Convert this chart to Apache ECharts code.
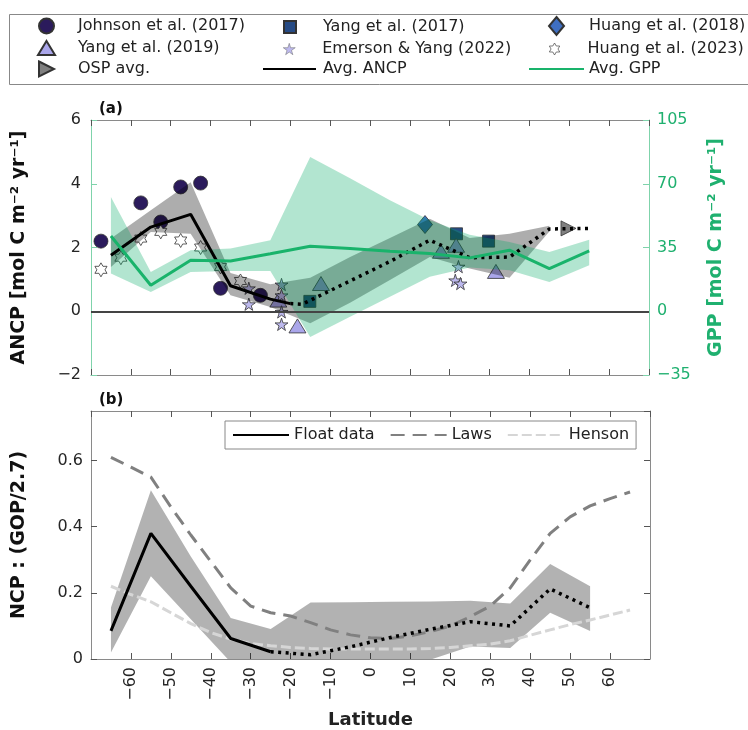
<!DOCTYPE html>
<html>
<head>
<meta charset="utf-8">
<title>ANCP / GPP vs latitude</title>
<script src="https://cdn.jsdelivr.net/npm/echarts@6/dist/echarts.min.js"></script>
<style>
  html, body { margin: 0; padding: 0; background: #fff; }
  #main { width: 748px; height: 730px; }
</style>
</head>
<body>
<div id="main"></div>
<script>
// ---------------- panel (a): observations [latitude, ANCP] ----------------
var johnson2017 = [[-67.5, 2.2], [-57.5, 3.4], [-52.5, 2.8], [-47.5, 3.9], [-42.5, 4.02], [-37.5, 0.72], [-27.5, 0.5]];
var yang2017 = [[-15.1, 0.31], [21.7, 2.43], [29.75, 2.2]];
var huang2018 = [[13.8, 2.72]];
var yang2019 = [[-23.0, 0.35], [-18.2, -0.46], [-12.3, 0.87], [17.8, 1.88], [21.6, 2.07], [31.6, 1.25]];
var emerson2022 = [[-30.4, 0.72], [-30.4, 0.22], [-22.2, 0.84], [-22.2, 0.5], [-22.2, -0.02], [-22.2, -0.41], [22.2, 1.4], [21.4, 0.97], [22.7, 0.87]];
var huang2023 = [[-67.5, 1.3], [-62.5, 1.68], [-57.5, 2.28], [-52.5, 2.49], [-47.5, 2.22], [-42.5, 2.0], [-37.5, 1.39], [-32.5, 0.95]];
var ospAvg = [[49.8, 2.6]];

// average ANCP (solid where floats are dense, dotted elsewhere)
var ancpSolid = [[-65, 1.76], [-55, 2.64], [-45, 3.04], [-35, 0.8], [-25, 0.38], [-20, 0.24]];
var ancpDotted = [[-20, 0.24], [-17, 0.22], [-5, 0.95], [5, 1.56], [15, 2.23], [25, 1.68], [35, 1.7], [45, 2.58], [55, 2.6]];
var ancpBandLat = [-65, -55, -45, -35, -25, -15, -5, 5, 15, 25, 35, 45];
var ancpBandHi = [2.28, 3.17, 4.05, 1.2, 0.85, 1.05, 1.7, 2.3, 2.9, 2.3, 2.43, 2.68];
var ancpBandLo = [1.39, 2.49, 2.43, 0.5, 0.13, -0.38, 0.27, 0.98, 1.7, 1.34, 1.05, 2.5];

// average GPP (right axis)
var gppLat = [-65, -55, -45, -35, -25, -15, -5, 5, 15, 25, 35, 45, 55];
var gppMean = [41.3, 14.3, 28, 27.6, 31.6, 35.7, 34.5, 33, 31.7, 29.3, 33.5, 23.4, 33.1];
var gppHi = [62.7, 21.6, 33.5, 34.4, 39, 84.7, 73, 61, 50, 42, 38, 32.5, 39.3];
var gppLo = [20.7, 10.6, 21.6, 22.1, 22.1, -14.1, -3, 8, 19, 24, 22.5, 16.1, 25.2];

// ---------------- panel (b): NCP : (GOP/2.7) ----------------
var floatSolid = [[-65, 0.085], [-55, 0.38], [-45, 0.22], [-35, 0.062], [-25, 0.022]];
var floatDotted = [[-25, 0.022], [-15, 0.013], [-5, 0.037], [5, 0.065], [15, 0.09], [25, 0.113], [35, 0.1], [45, 0.212], [55, 0.155]];
var floatBandLat = [-65, -55, -45, -35, -25, -15, -5, 5, 15, 25, 35, 45, 55];
var floatBandHi = [0.156, 0.51, 0.31, 0.124, 0.091, 0.171, 0.172, 0.173, 0.174, 0.176, 0.168, 0.287, 0.22];
var floatBandLo = [0.02, 0.25, 0.12, -0.01, -0.03, -0.06, -0.06, -0.04, -0.002, 0.038, 0.033, 0.14, 0.085];
var lawsModel = [[-65, 0.61], [-60, 0.58], [-55, 0.55], [-50, 0.46], [-45, 0.375], [-40, 0.295], [-35, 0.215], [-30, 0.16], [-25, 0.14], [-20, 0.13], [-15, 0.11], [-10, 0.088], [-5, 0.073], [0, 0.064], [5, 0.062], [10, 0.07], [15, 0.083], [20, 0.1], [25, 0.128], [30, 0.16], [35, 0.215], [40, 0.3], [45, 0.38], [50, 0.43], [55, 0.463], [60, 0.485], [65, 0.505]];
var hensonModel = [[-65, 0.22], [-60, 0.195], [-55, 0.173], [-50, 0.14], [-45, 0.107], [-40, 0.08], [-35, 0.06], [-30, 0.047], [-25, 0.04], [-20, 0.035], [-15, 0.032], [-10, 0.03], [-5, 0.03], [0, 0.03], [5, 0.03], [10, 0.03], [15, 0.032], [20, 0.035], [25, 0.04], [30, 0.045], [35, 0.055], [40, 0.072], [45, 0.088], [50, 0.104], [55, 0.118], [60, 0.133], [65, 0.148]];

var FONT = 'DejaVu Sans';
var GREEN = '#1fb06f';
var GREEN_LINE = '#7fd3ab';
var SPINE = '#8a8a8a';

var STAR5 = 'path://M50,0L61,35L98,35L68,57L79,91L50,70L21,91L32,57L2,35L39,35Z';
var STAR6 = 'path://M50,0L64.4,25L93.3,25L78.9,50L93.3,75L64.4,75L50,100L35.6,75L6.7,75L21.1,50L6.7,25L35.6,25Z';
var TRI_RIGHT = 'path://M0,0L100,50L0,100Z';

function minus(v) { return String(v).replace('-', '\u2212'); }

function points(name, data, symbol, size, color) {
        return {
                name: name, type: 'scatter', xAxisIndex: 0, yAxisIndex: 0,
                data: data, symbol: symbol, symbolSize: size, symbolKeepAspect: true,
                itemStyle: { color: color, borderColor: '#333', borderWidth: 0.8, opacity: 1 },
                z: 2, silent: true
        };
}

// shaded range drawn as one polygon through the axis scales
function band(xi, yi, lats, hi, lo, fill, z) {
        return {
                type: 'custom', xAxisIndex: xi, yAxisIndex: yi, clip: true, z: z, silent: true,
                data: [[lats[0], hi[0]]],
                renderItem: function (params, api) {
                        var pts = [];
                        for (var i = 0; i < lats.length; i++) pts.push(api.coord([lats[i], hi[i]]));
                        for (var j = lats.length - 1; j >= 0; j--) pts.push(api.coord([lats[j], lo[j]]));
                        return { type: 'polygon', shape: { points: pts }, style: { fill: fill } };
                }
        };
}

function line(name, xi, yi, data, color, width, type, z) {
        return {
                name: name, type: 'line', xAxisIndex: xi, yAxisIndex: yi, data: data,
                symbol: 'none', lineStyle: { color: color, width: width, type: type, cap: 'butt' },
                itemStyle: { color: color }, z: z, silent: true
        };
}

function xAxisDef(grid, pos, labels) {
        return {
                type: 'value', gridIndex: grid, position: pos, min: -70, max: 70, interval: 10,
                axisLine: { show: true, onZero: false, lineStyle: { color: SPINE, width: 1 } },
                axisTick: { show: true, inside: true, length: 6, lineStyle: { color: '#555' } },
                axisLabel: { show: labels, rotate: 90, fontFamily: FONT, fontSize: 16, color: '#262626',
                        showMinLabel: false, showMaxLabel: false, margin: 8, formatter: minus },
                splitLine: { show: false }
        };
}

// one legend entry per box, so every marker keeps its own size and place
function legendItem(name, left, cy, w, h, textX, iconStyle) {
        var lg = {
                orient: 'horizontal', left: left, top: cy - h / 2, padding: 0,
                itemWidth: w, itemHeight: h, selectedMode: false, data: [name],
                textStyle: { fontFamily: FONT, fontSize: 16, color: '#222', padding: [0, 0, 0, textX - left - w - 5] }
        };
        if (iconStyle) lg.itemStyle = iconStyle;
        return lg;
}
var LINE_ONLY = { opacity: 0 };
var THIN = { borderWidth: 0.5, borderColor: '#666' };
var THIN_DARK = { borderWidth: 0.7, borderColor: '#444' };

var option = {
        animation: false,
        backgroundColor: '#fff',
        textStyle: { fontFamily: FONT },
        title: [
                { text: '(a)', left: 99, top: 102, padding: 0, textStyle: { fontFamily: FONT, fontSize: 15, fontWeight: 'bold', color: '#111' } },
                { text: '(b)', left: 99, top: 393, padding: 0, textStyle: { fontFamily: FONT, fontSize: 15, fontWeight: 'bold', color: '#111' } }
        ],
        graphic: [
                { type: 'rect', left: 7, top: 12, shape: { width: 760, height: 70 }, style: { fill: 'none', stroke: '#888', lineWidth: 1 }, silent: true }
        ],
        legend: [
                legendItem('Johnson et al. (2017)', 38, 25, 15, 15, 77),
                legendItem('Yang et al. (2019)', 37, 47, 17, 14, 77),
                legendItem('OSP avg.', 38, 68, 15, 15, 77),
                legendItem('Yang et al. (2017)', 283, 25, 12, 12, 322),
                legendItem('Emerson & Yang (2022)', 283, 47, 12, 12, 322, THIN),
                legendItem('Avg. ANCP', 262, 68, 53, 14, 322, LINE_ONLY),
                legendItem('Huang et al. (2018)', 548, 25, 15, 18, 588),
                legendItem('Huang et al. (2023)', 549, 47, 12, 12, 588, THIN_DARK),
                legendItem('Avg. GPP', 528, 68, 55, 14, 588, LINE_ONLY),
                {
                        left: 225, top: 421, orient: 'horizontal', itemWidth: 56, itemHeight: 14, itemGap: 15,
                        padding: [6, 7, 6, 7], backgroundColor: '#fff', borderColor: '#888', borderWidth: 1,
                        selectedMode: false, data: ['Float data', 'Laws', 'Henson'], itemStyle: LINE_ONLY,
                        textStyle: { fontFamily: FONT, fontSize: 16, color: '#222' }
                }
        ],
        grid: [
                { left: 91, top: 120, width: 558, height: 255 },
                { left: 91, top: 411, width: 559, height: 255 }
        ],
        xAxis: [
                xAxisDef(0, 'bottom', false),
                xAxisDef(0, 'top', false),
                Object.assign(xAxisDef(1, 'bottom', true), {
                        name: 'Latitude', nameLocation: 'middle', nameGap: 52,
                        nameTextStyle: { fontFamily: FONT, fontSize: 18, fontWeight: 'bold', color: '#222' }
                }),
                xAxisDef(1, 'top', false)
        ],
        yAxis: [
                {
                        type: 'value', gridIndex: 0, position: 'left', min: -2, max: 6, interval: 2,
                        name: 'ANCP [mol C m\u207B\u00B2 yr\u207B\u00B9]', nameLocation: 'middle', nameRotate: 90, nameGap: 62,
                        nameTextStyle: { fontFamily: FONT, fontSize: 19, fontWeight: 'bold', color: '#111' },
                        axisLine: { show: true, onZero: false, lineStyle: { color: GREEN_LINE } },
                        axisTick: { show: true, inside: true, length: 6, lineStyle: { color: GREEN_LINE } },
                        axisLabel: { fontFamily: FONT, fontSize: 16, color: '#262626', margin: 10, formatter: minus },
                        splitLine: { show: false }
                },
                {
                        type: 'value', gridIndex: 0, position: 'right', min: -35, max: 105, interval: 35,
                        name: 'GPP [mol C m\u207B\u00B2 yr\u207B\u00B9]', nameLocation: 'middle', nameRotate: 90, nameGap: 58,
                        nameTextStyle: { fontFamily: FONT, fontSize: 19, fontWeight: 'bold', color: GREEN },
                        axisLine: { show: true, onZero: false, lineStyle: { color: GREEN_LINE } },
                        axisTick: { show: true, inside: true, length: 6, lineStyle: { color: GREEN_LINE } },
                        axisLabel: { fontFamily: FONT, fontSize: 16, color: GREEN, margin: 8, formatter: minus },
                        splitLine: { show: false }
                },
                {
                        type: 'value', gridIndex: 1, position: 'left', min: 0, max: 0.75, interval: 0.2,
                        name: 'NCP : (GOP/2.7)', nameLocation: 'middle', nameRotate: 90, nameGap: 62,
                        nameTextStyle: { fontFamily: FONT, fontSize: 19, fontWeight: 'bold', color: '#111' },
                        axisLine: { show: true, onZero: false, lineStyle: { color: SPINE } },
                        axisTick: { show: true, inside: true, length: 6, lineStyle: { color: '#555' } },
                        axisLabel: { fontFamily: FONT, fontSize: 16, color: '#262626', margin: 8, showMaxLabel: false },
                        splitLine: { show: false }
                },
                {
                        type: 'value', gridIndex: 1, position: 'right', min: 0, max: 0.75, interval: 0.2,
                        axisLine: { show: true, onZero: false, lineStyle: { color: SPINE } },
                        axisTick: { show: true, inside: true, length: 6, lineStyle: { color: '#555' } },
                        axisLabel: { show: false },
                        splitLine: { show: false }
                }
        ],
        series: [
                // observations (under the shading)
                points('Johnson et al. (2017)', johnson2017, 'circle', 14, '#2b1b5c'),
                points('Yang et al. (2017)', yang2017, 'rect', 12, '#264b85'),
                points('Huang et al. (2018)', huang2018, 'diamond', [15, 18], '#3f6fc2'),
                points('Yang et al. (2019)', yang2019, 'triangle', [17, 14], '#aaa6ea'),
                points('Emerson & Yang (2022)', emerson2022, STAR5, 13, '#bdb9ee'),
                points('Huang et al. (2023)', huang2023, STAR6, 14, '#ffffff'),
                points('OSP avg.', ospAvg, TRI_RIGHT, 15, '#808080'),

                // shaded ranges
                band(0, 0, ancpBandLat, ancpBandHi, ancpBandLo, 'rgba(0,0,0,0.32)', 3),
                band(0, 1, gppLat, gppHi, gppLo, 'rgba(0,168,100,0.3)', 3),

                // averages
                Object.assign(line('Avg. ANCP', 0, 0, ancpSolid, '#000', 3, 'solid', 5), {
                        markLine: {
                                silent: true, symbol: 'none', label: { show: false },
                                lineStyle: { color: '#444', width: 2, type: 'solid' },
                                data: [{ yAxis: 0 }]
                        }
                }),
                line('Avg. ANCP', 0, 0, ancpDotted, '#000', 3.5, [3, 4.5], 5),
                line('Avg. GPP', 0, 1, gppLat.map(function (v, i) { return [v, gppMean[i]]; }), '#19b36b', 3, 'solid', 5),

                // panel (b)
                band(2, 2, floatBandLat, floatBandHi, floatBandLo, 'rgba(0,0,0,0.3)', 2),
                line('Float data', 2, 2, floatSolid, '#000', 3, 'solid', 5),
                line('Float data', 2, 2, floatDotted, '#000', 3.5, [3, 4.5], 5),
                line('Laws', 2, 2, lawsModel, '#808080', 3, [14, 8], 4),
                line('Henson', 2, 2, hensonModel, '#d6d6d6', 3, [10, 4], 4)
        ]
};

echarts.init(document.getElementById('main')).setOption(option);
</script>
</body>
</html>
